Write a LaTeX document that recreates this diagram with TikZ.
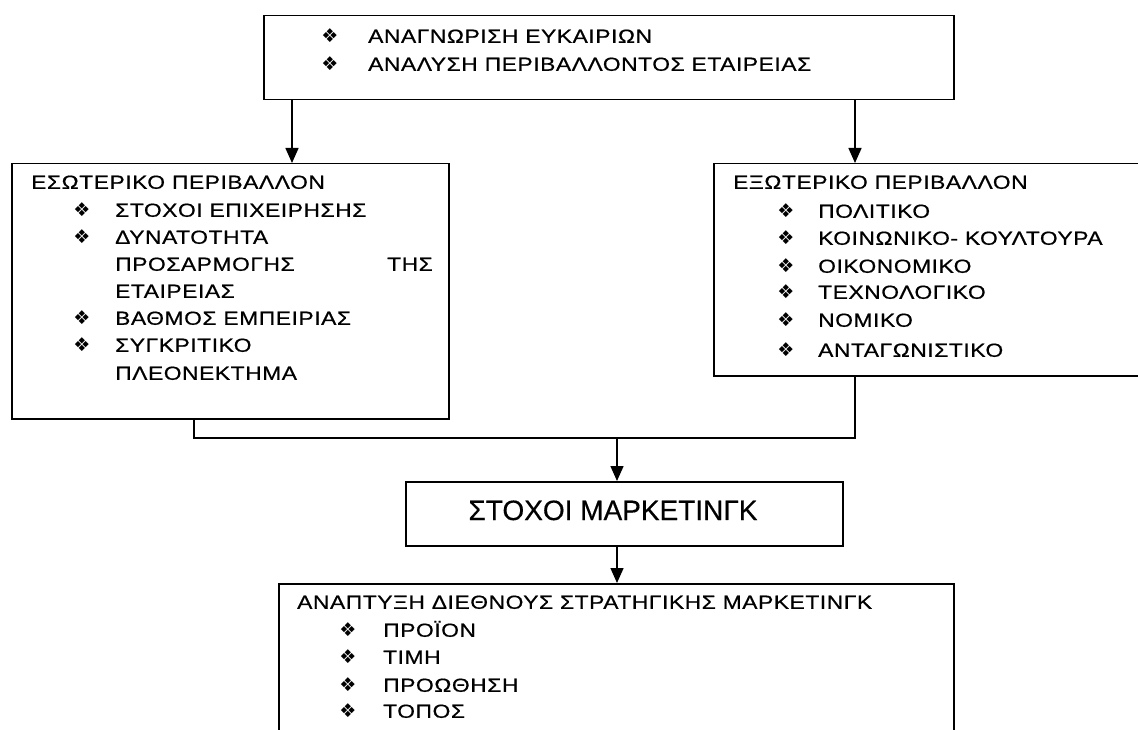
\documentclass[tikz,border=0pt]{standalone}
\usepackage{fontspec}
\setmainfont{Liberation Sans}[FakeStretch=1.2, LetterSpace=3, FakeBold=0.6]
\newfontfamily\titlefont{Liberation Sans}[FakeBold=0.4]
\newfontfamily\symfont{DejaVu Sans}
\usetikzlibrary{arrows.meta}
\tikzset{
  box/.style={draw=black, line width=1.5pt, rectangle, anchor=north west, inner sep=0pt},
  conn/.style={draw=black, line width=1.5pt},
  arr/.style={conn, -{Triangle[width=13pt,length=15pt]}},
  txt/.style={inner sep=0pt, anchor=west, text height=13.6pt, text depth=0pt, font=\fontsize{19}{19}\selectfont},
  bul/.style={inner sep=0pt, anchor=center, font=\symfont\fontsize{19}{19}\selectfont},
}
\begin{document}
\begin{tikzpicture}[x=1pt,y=-1pt]
\useasboundingbox (0,0) rectangle (1138,730);
\clip (0,0) rectangle (1138,730);
% boxes
\node[box, minimum width=690pt, minimum height=84pt] (top) at (263,15) {};
\node[box, minimum width=437pt, minimum height=255pt] (lbox) at (11,163) {};
\node[box, minimum width=460pt, minimum height=212pt] (rbox) at (713,163) {};
\node[box, minimum width=437pt, minimum height=64pt] (mkt) at (405,481) {};
\node[box, minimum width=675pt, minimum height=190pt] (bot) at (278,583) {};
% top box text
\node[bul] (tb1) at (330,36) {❖};
\node[txt] (tt1) at (368,36) {ΑΝΑΓΝΩΡΙΣΗ ΕΥΚΑΙΡΙΩΝ};
\node[bul] (tb2) at (330,64) {❖};
\node[txt] (tt2) at (368,64) {ΑΝΑΛΥΣΗ ΠΕΡΙΒΑΛΛΟΝΤΟΣ ΕΤΑΙΡΕΙΑΣ};
% left box text
\node[txt] (lt0) at (31,182) {ΕΣΩΤΕΡΙΚΟ ΠΕΡΙΒΑΛΛΟΝ};
\node[bul] (lb1) at (82,210) {❖};
\node[txt] (lt1) at (115,210) {ΣΤΟΧΟΙ ΕΠΙΧΕΙΡΗΣΗΣ};
\node[bul] (lb2) at (82,237) {❖};
\node[txt] (lt2) at (115,237) {ΔΥΝΑΤΟΤΗΤΑ};
\node[txt] (lt3) at (115,264) {ΠΡΟΣΑΡΜΟΓΗΣ};
\node[txt] (lt3b) at (387,264) {ΤΗΣ};
\node[txt] (lt4) at (115,291) {ΕΤΑΙΡΕΙΑΣ};
\node[bul] (lb5) at (82,318) {❖};
\node[txt] (lt5) at (115,318) {ΒΑΘΜΟΣ ΕΜΠΕΙΡΙΑΣ};
\node[bul] (lb6) at (82,345) {❖};
\node[txt] (lt6) at (115,345) {ΣΥΓΚΡΙΤΙΚΟ};
\node[txt] (lt7) at (115,373) {ΠΛΕΟΝΕΚΤΗΜΑ};
% right box text
\node[txt] (rt0) at (733,182) {ΕΞΩΤΕΡΙΚΟ ΠΕΡΙΒΑΛΛΟΝ};
\node[bul] (rb1) at (786,211) {❖};
\node[txt] (rt1) at (818,211) {ΠΟΛΙΤΙΚΟ};
\node[bul] (rb2) at (786,238) {❖};
\node[txt] (rt2) at (818,238) {ΚΟΙΝΩΝΙΚΟ- ΚΟΥΛΤΟΥΡΑ};
\node[bul] (rb3) at (786,266) {❖};
\node[txt] (rt3) at (818,266) {ΟΙΚΟΝΟΜΙΚΟ};
\node[bul] (rb4) at (786,292) {❖};
\node[txt] (rt4) at (818,292) {ΤΕΧΝΟΛΟΓΙΚΟ};
\node[bul] (rb5) at (786,320) {❖};
\node[txt] (rt5) at (818,320) {ΝΟΜΙΚΟ};
\node[bul] (rb6) at (786,350) {❖};
\node[txt] (rt6) at (818,350) {ΑΝΤΑΓΩΝΙΣΤΙΚΟ};
% marketing box text
\node[inner sep=0pt, anchor=center, text height=20pt, text depth=0pt, font=\titlefont\fontsize{28}{28}\selectfont] (mt) at (613,510) {ΣΤΟΧΟΙ ΜΑΡΚΕΤΙΝΓΚ};
% bottom box text
\node[txt] (bt0) at (297,602) {ΑΝΑΠΤΥΞΗ ΔΙΕΘΝΟΥΣ ΣΤΡΑΤΗΓΙΚΗΣ ΜΑΡΚΕΤΙΝΓΚ};
\node[bul] (bb1) at (348,630) {❖};
\node[txt] (bt1) at (383,630) {ΠΡΟΪΟΝ};
\node[bul] (bb2) at (348,657) {❖};
\node[txt] (bt2) at (383,657) {ΤΙΜΗ};
\node[bul] (bb3) at (348,685) {❖};
\node[txt] (bt3) at (383,685) {ΠΡΟΩΘΗΣΗ};
\node[bul] (bb4) at (348,711) {❖};
\node[txt] (bt4) at (383,711) {ΤΟΠΟΣ};
% connectors
\coordinate (xl) at (292,0);
\coordinate (xr) at (855,0);
\coordinate (jl) at (194,438);
\coordinate (jr) at (855,438);
\coordinate (jm) at (617,438);
\draw[arr] (top.south -| xl) -- (lbox.north -| xl);
\draw[arr] (top.south -| xr) -- (rbox.north -| xr);
\draw[conn] (lbox.south -| jl) -- (jl) -- (jr) -- (rbox.south -| jr);
\draw[arr] (jm) -- (mkt.north -| jm);
\draw[arr] (mkt.south -| jm) -- (bot.north -| jm);
\end{tikzpicture}
\end{document}
